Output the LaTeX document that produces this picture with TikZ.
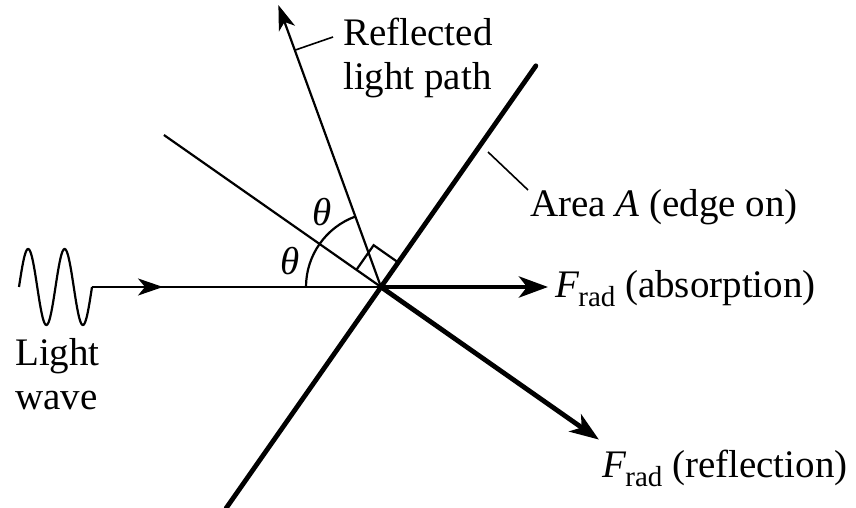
\documentclass[tikz,border=0pt]{standalone}
\usepackage{fontspec}
\setmainfont{Liberation Serif}
\usetikzlibrary{arrows.meta,calc}
\begin{document}
\begin{tikzpicture}[x=1pt,y=1pt,
  thinline/.style={line width=2.2pt},
  thickline/.style={line width=4.8pt},
  leader/.style={line width=1.6pt},
  thinarrow/.style={-{Stealth[length=25pt,width=17pt,inset=7pt]}},
  thickarrow/.style={-{Stealth[length=29pt,width=21pt,inset=8pt]}},
  lbl/.style={font=\fontsize{39}{44}\selectfont, inner sep=0pt},
]
\useasboundingbox (0,0) rectangle (856,508);
% key points
\coordinate (C) at (381,221);
\coordinate (A1) at ($(C)+(235:270)$);
\coordinate (A2) at ($(C)+(55:270)$);
\coordinate (N) at ($(C)+(145:265)$);
\coordinate (R) at ($(C)+(110:300)$);
\coordinate (W1) at (92,221);
\coordinate (M) at (163,221);
\coordinate (FA) at (548,221);
\coordinate (FR) at ($(C)+(-35:266)$);
% surface (area A, edge on)
\draw[thickline,line cap=round] (A1) -- (A2);
% normal
\draw[thinline] (C) -- (N);
% reflected light path
\draw[thinline,thinarrow] (C) -- (R);
% light wave
\draw[thinline] plot[domain=0:720,samples=120,smooth] ({19+\x/720*73},{221+38*sin(\x)});
\draw[thinline] (W1) -- (C);
\draw[thinline,thinarrow] (W1) -- (M);
% forces
\draw[thickline,thickarrow] (C) -- (FA);
\draw[thickline,thickarrow] (C) -- (FR);
% angle arc and right angle mark
\draw[thinline] ($(C)+(180:75)$) arc[start angle=180, end angle=110, radius=75];
\draw[thinline] ($(C)+(145:30)$) -- ($(C)+(145:30)+(55:30)$) -- ($(C)+(55:30)$);
\node[lbl] (th1) at ($(C)+(164:95)$) {\textit{θ}};
\node[lbl] (th2) at ($(C)+(128:95)$) {\textit{θ}};
% labels
\node[lbl,anchor=base west,align=left] (lw) at (15,98) {Light\\wave};
\node[lbl,anchor=base west,align=left] (rl) at (343,418) {Reflected\\light path};
\node[lbl,anchor=base west] (aa) at (530,291) {Area \textit{A} (edge on)};
\node[lbl,anchor=base west] (fa) at (555,210) {\textit{F}\kern-1pt\raisebox{-9pt}{\fontsize{29}{29}\selectfont rad} (absorption)};
\node[lbl,anchor=base west] (fr) at (602,30) {\textit{F}\kern-1pt\raisebox{-9pt}{\fontsize{29}{29}\selectfont rad} (reflection)};
% leader lines
\coordinate (RL0) at ($(C)+(110:252)$);
\coordinate (RL1) at (333,471);
\draw[leader] (RL0) -- (RL1);
\coordinate (AL0) at (488,356);
\coordinate (AL1) at (528,318);
\draw[leader] (AL0) -- (AL1);
\end{tikzpicture}
\end{document}
